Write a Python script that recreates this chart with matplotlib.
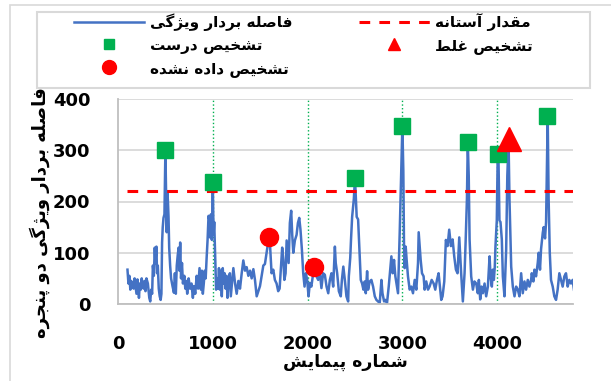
import numpy as np
import matplotlib.pyplot as plt
from matplotlib.patches import Rectangle
from matplotlib.lines import Line2D

# data
meting = [100, 110, 120, 130, 140, 150, 165, 175, 185, 195, 205, 215, 221, 230, 240, 250, 260, 270, 280, 290,
          300, 315, 330, 340, 350, 360, 368, 378, 388, 395, 405, 412, 420, 430, 440, 450, 458, 465, 472, 480,
          490, 500, 507, 514, 520, 527, 533, 540, 550, 560, 575, 590, 600, 610, 620, 630, 640, 648, 656, 665,
          675, 685, 700, 710, 720, 730, 745, 760, 775, 790, 800, 815, 830, 845, 860, 875, 885, 895, 905, 915,
          925, 935, 945, 955, 963, 970, 980, 990, 1000, 1008, 1015, 1025, 1035, 1045, 1055, 1065, 1075, 1085, 1095, 1105,
          1115, 1125, 1135, 1145, 1155, 1165, 1180, 1190, 1200, 1217, 1235, 1252, 1270, 1287, 1305, 1322, 1340, 1357, 1375, 1393,
          1410, 1428, 1445, 1463, 1480, 1498, 1515, 1533, 1550, 1568, 1590, 1603, 1620, 1638, 1655, 1673, 1690, 1705, 1720, 1732,
          1744, 1755, 1768, 1779, 1790, 1800, 1813, 1827, 1838, 1849, 1866, 1884, 1898, 1912, 1925, 1940, 1954, 1968, 1982, 1996,
          2010, 2024, 2040, 2059, 2076, 2094, 2112, 2129, 2146, 2164, 2182, 2200, 2218, 2235, 2252, 2270, 2288, 2297, 2312, 2330,
          2350, 2362, 2377, 2393, 2410, 2428, 2435, 2450, 2458, 2470, 2488, 2500, 2508, 2518, 2533, 2547, 2561, 2575, 2589, 2603,
          2614, 2628, 2638, 2656, 2673, 2691, 2709, 2726, 2744, 2761, 2779, 2790, 2807, 2821, 2838, 2856, 2884, 2898, 2912, 2926,
          2954, 2972, 2989, 3000, 3010, 3017, 3024, 3035, 3045, 3059, 3077, 3094, 3112, 3130, 3147, 3165, 3172, 3193, 3207, 3224,
          3235, 3252, 3270, 3287, 3309, 3330, 3347, 3365, 3382, 3396, 3410, 3424, 3442, 3459, 3477, 3494, 3512, 3530, 3547, 3565,
          3582, 3600, 3620, 3638, 3656, 3667, 3681, 3690, 3700, 3709, 3726, 3744, 3760, 3779, 3796, 3807, 3821, 3835, 3849, 3867,
          3884, 3902, 3920, 3930, 3944, 3954, 3965, 3975, 3982, 3996, 4005, 4013, 4024, 4035, 4049, 4060, 4077, 4095, 4107, 4120,
          4130, 4148, 4165, 4183, 4200, 4218, 4235, 4253, 4270, 4288, 4305, 4323, 4340, 4358, 4365, 4382, 4393, 4410, 4428, 4438,
          4452, 4463, 4481, 4491, 4505, 4516, 4526, 4533, 4543, 4555, 4568, 4586, 4603, 4621, 4638, 4656, 4673, 4691, 4709, 4726,
          4744, 4761, 4779, 4796, 4810]
afstand = [67, 40, 55, 28, 45, 35, 30, 50, 35, 20, 48, 30, 12, 40, 28, 50, 35, 30, 45, 25,
           50, 40, 12, 5, 28, 20, 75, 55, 110, 80, 112, 60, 75, 30, 15, 8, 20, 120, 150, 168,
           175, 300, 215, 140, 220, 200, 170, 110, 75, 50, 35, 22, 60, 20, 75, 95, 110, 65, 120, 50,
           80, 40, 55, 30, 45, 20, 50, 30, 40, 12, 35, 20, 55, 30, 70, 28, 65, 20, 40, 65,
           50, 90, 125, 172, 165, 130, 175, 125, 238, 135, 160, 90, 28, 50, 30, 70, 28, 65, 15, 70,
           40, 60, 30, 55, 12, 45, 60, 15, 35, 70, 40, 20, 45, 30, 60, 85, 65, 72, 55, 65,
           50, 68, 47, 15, 25, 35, 55, 75, 78, 100, 128, 118, 60, 67, 47, 40, 25, 30, 75, 110,
           86, 47, 60, 124, 100, 80, 158, 182, 135, 100, 124, 135, 158, 168, 145, 106, 60, 34, 60, 47,
           15, 41, 34, 60, 70, 54, 47, 64, 31, 60, 57, 34, 21, 47, 60, 34, 112, 80, 60, 25,
           15, 47, 73, 47, 15, 5, 54, 90, 125, 170, 205, 246, 210, 170, 165, 106, 47, 40, 28, 44,
           21, 64, 28, 44, 47, 34, 15, 8, 5, 2, 47, 21, 5, 8, 2, 34, 93, 60, 86, 54,
           21, 140, 268, 348, 260, 120, 70, 112, 86, 54, 28, 34, 21, 47, 28, 80, 140, 86, 60, 54,
           28, 44, 28, 34, 47, 40, 28, 47, 60, 34, 8, 15, 44, 125, 113, 145, 113, 126, 93, 67,
           60, 130, 60, 5, 60, 120, 205, 316, 250, 126, 54, 28, 44, 40, 21, 47, 9, 34, 21, 40,
           15, 34, 93, 54, 34, 67, 47, 73, 112, 163, 280, 293, 163, 160, 126, 54, 15, 106, 250, 318,
           204, 73, 34, 15, 34, 28, 15, 60, 21, 44, 28, 47, 34, 47, 60, 44, 67, 54, 80, 100,
           67, 107, 139, 150, 128, 160, 280, 366, 204, 100, 47, 34, 15, 8, 28, 60, 47, 34, 54, 60,
           34, 47, 40, 47, 28]

drempel = 220
goed_x = [500, 1000, 2500, 3000, 3690, 4010, 4530]
goed_y = [300, 238, 246, 348, 316, 293, 366]
fout_x = [4120]
fout_y = [322]
gemist_x = [1590, 2065]
gemist_y = [130, 72]
lijnen = [1000, 2000, 3000, 4000]

# Persian text: contextual shaping + visual order (matplotlib has no bidi)
VORMEN = {
    'ا': ('\uFE8D', '\uFE8E', None, None),
    'آ': ('\uFE81', '\uFE82', None, None),
    'ب': ('\uFE8F', '\uFE90', '\uFE91', '\uFE92'),
    'پ': ('\uFB56', '\uFB57', '\uFB58', '\uFB59'),
    'ت': ('\uFE95', '\uFE96', '\uFE97', '\uFE98'),
    'ج': ('\uFE9D', '\uFE9E', '\uFE9F', '\uFEA0'),
    'خ': ('\uFEA5', '\uFEA6', '\uFEA7', '\uFEA8'),
    'د': ('\uFEA9', '\uFEAA', None, None),
    'ر': ('\uFEAD', '\uFEAE', None, None),
    'ژ': ('\uFB8A', '\uFB8B', None, None),
    'س': ('\uFEB1', '\uFEB2', '\uFEB3', '\uFEB4'),
    'ش': ('\uFEB5', '\uFEB6', '\uFEB7', '\uFEB8'),
    'ص': ('\uFEB9', '\uFEBA', '\uFEBB', '\uFEBC'),
    'ط': ('\uFEC1', '\uFEC2', '\uFEC3', '\uFEC4'),
    'غ': ('\uFECD', '\uFECE', '\uFECF', '\uFED0'),
    'ف': ('\uFED1', '\uFED2', '\uFED3', '\uFED4'),
    'ق': ('\uFED5', '\uFED6', '\uFED7', '\uFED8'),
    'گ': ('\uFB92', '\uFB93', '\uFB94', '\uFB95'),
    'ل': ('\uFEDD', '\uFEDE', '\uFEDF', '\uFEE0'),
    'م': ('\uFEE1', '\uFEE2', '\uFEE3', '\uFEE4'),
    'ن': ('\uFEE5', '\uFEE6', '\uFEE7', '\uFEE8'),
    'ه': ('\uFEE9', '\uFEEA', '\uFEEB', '\uFEEC'),
    'و': ('\uFEED', '\uFEEE', None, None),
    'ی': ('\uFBFC', '\uFBFD', '\uFBFE', '\uFBFF'),
}


def fa(s):
    out = []
    for i, c in enumerate(s):
        if c not in VORMEN:
            out.append(c)
            continue
        prev = s[i - 1] if i > 0 else ''
        nxt = s[i + 1] if i + 1 < len(s) else ''
        jp = prev in VORMEN and VORMEN[prev][2] is not None
        jn = VORMEN[c][2] is not None and nxt in VORMEN
        f = VORMEN[c]
        if jp and jn:
            out.append(f[3])
        elif jp:
            out.append(f[1])
        elif jn:
            out.append(f[2])
        else:
            out.append(f[0])
    return ''.join(reversed(out))


plt.rcParams['font.family'] = ['DejaVu Sans']
plt.rcParams['font.weight'] = 'bold'

W, H = 611, 381
fig = plt.figure(figsize=(W / 100, H / 100), dpi=100)
# chart border and legend box (Excel style)
fig.patches.append(Rectangle((10 / W, -0.1), 1.0, 1 - 5 / H + 0.1, transform=fig.transFigure,
                             fill=False, edgecolor='#d9d9d9', linewidth=1.2))
fig.patches.append(Rectangle((37 / W, 1 - 88 / H), (590 - 37) / W, (88 - 12) / H, transform=fig.transFigure,
                             fill=False, edgecolor='#d9d9d9', linewidth=1.5))

ax = fig.add_axes([118 / W, 1 - 304 / H, (573 - 118) / W, (304 - 99) / H])

for v in lijnen:
    ax.axvline(v, color='#00B050', linestyle=':', linewidth=1, zorder=1)
ax.plot(meting, afstand, color='#4472C4', linewidth=1.8, zorder=2)
ax.plot([100, 4800], [drempel, drempel], color='#FF0000', linestyle=(0, (3.5, 3)), linewidth=2.2, zorder=3)
ax.plot(goed_x, goed_y, 's', color='#00B050', markersize=12, zorder=4)
ax.plot(fout_x, fout_y, '^', color='#FF0000', markersize=17, zorder=4)
ax.plot(gemist_x, gemist_y, 'o', color='#FF0000', markersize=13, zorder=4)

ax.set_xlim(0, 4800)
ax.set_ylim(0, 400)
ax.set_xticks([0, 1000, 2000, 3000, 4000])
ax.set_yticks([0, 100, 200, 300, 400])
ax.grid(axis='y', color='#d9d9d9', linewidth=1.3)
ax.set_axisbelow(True)
for s in ['top', 'right']:
    ax.spines[s].set_visible(False)
for s in ['left', 'bottom']:
    ax.spines[s].set_color('#bfbfbf')
    ax.spines[s].set_linewidth(1.3)
ax.tick_params(length=0, labelsize=13, pad=20)
ax.tick_params(axis='x', pad=22)
ax.set_xlabel(fa('شماره پیمایش'), fontsize=12.5, fontweight='bold', labelpad=0)
ax.set_ylabel(fa('فاصله بردار ویژگی دو پنجره'), fontsize=13, fontweight='bold')
ax.yaxis.set_label_coords((50 - 118) / 455, (304 - 213) / 205)

# legend proxies (smaller markers than in the plot)
h1 = Line2D([], [], color='#4472C4', linewidth=1.8)
h2 = Line2D([], [], color='#00B050', marker='s', markersize=7, linestyle='None')
h3 = Line2D([], [], color='#FF0000', marker='o', markersize=10, linestyle='None')
h4 = Line2D([], [], color='#FF0000', linestyle=(0, (3.5, 3)), linewidth=2.2)
h5 = Line2D([], [], color='#FF0000', marker='^', markersize=9, linestyle='None')
fig.legend([h1, h2, h3, h4, h5],
           [fa('فاصله بردار ویژگی'), fa('تشخیص درست'), fa('تشخیص داده نشده'),
            fa('مقدار آستانه'), fa('تشخیص غلط')],
           ncol=2, loc='upper left', bbox_to_anchor=(74 / W, 1 - 13 / H), frameon=False,
           handlelength=4.6, handletextpad=0.35, borderpad=0, borderaxespad=0,
           labelspacing=0.45, columnspacing=4.4, prop={'weight': 'bold', 'size': 11})

fig.savefig('out.png', dpi=100)
